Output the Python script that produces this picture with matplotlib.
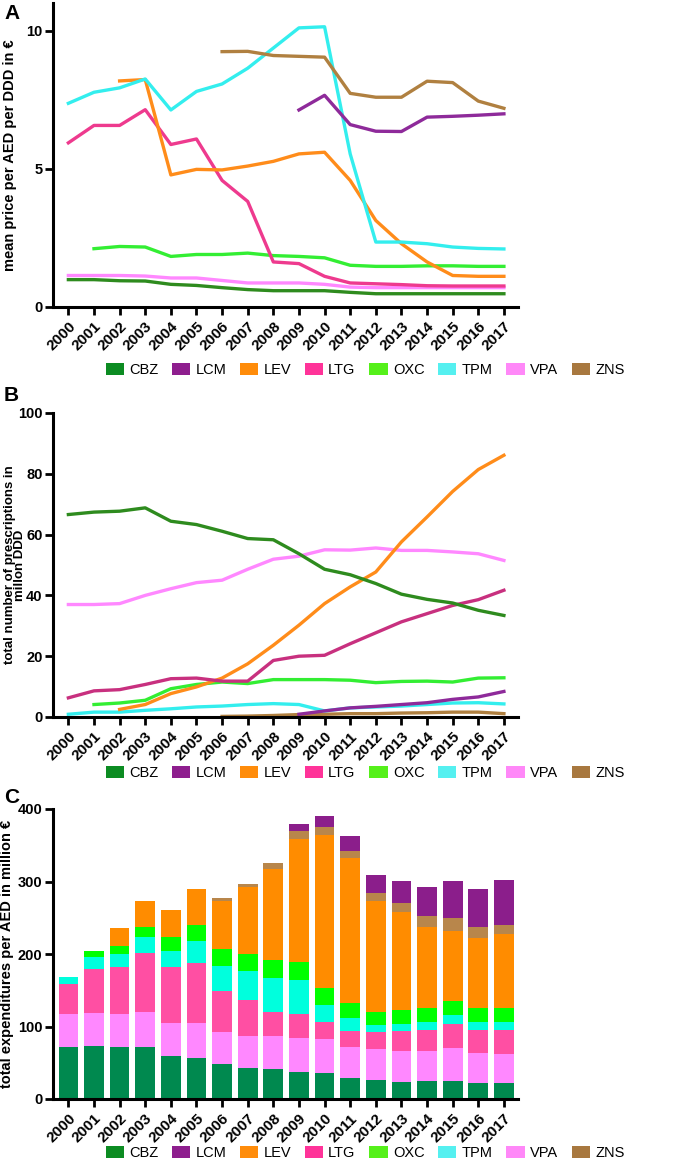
import matplotlib
matplotlib.use('Agg')
import matplotlib.pyplot as plt
import numpy as np
from matplotlib.patches import Patch

plt.rcParams['font.family'] = ['Liberation Sans', 'DejaVu Sans']

YEARS = list(range(2000, 2018))
DRUGS = ['CBZ', 'LCM', 'LEV', 'LTG', 'OXC', 'TPM', 'VPA', 'ZNS']
nan = np.nan

# ---- A: mean price per AED per DDD (EUR) ----
PRICE_CBZ = [0.99, 0.99, 0.95, 0.94, 0.82, 0.78, 0.70, 0.63, 0.59, 0.59, 0.59, 0.53, 0.48, 0.48, 0.48, 0.48, 0.48, 0.48]
PRICE_LCM = [nan] * 9 + [7.13, 7.66, 6.60, 6.36, 6.35, 6.87, 6.90, 6.94, 6.99]
PRICE_LEV = [nan, nan, 8.18, 8.23, 4.78, 4.98, 4.96, 5.10, 5.27, 5.54, 5.60, 4.58, 3.13, 2.29, 1.63, 1.14, 1.11, 1.11]
PRICE_LTG = [5.94, 6.57, 6.57, 7.14, 5.88, 6.08, 4.58, 3.82, 1.63, 1.57, 1.11, 0.87, 0.84, 0.81, 0.77, 0.76, 0.76, 0.76]
PRICE_OXC = [nan, 2.11, 2.19, 2.17, 1.83, 1.90, 1.90, 1.95, 1.86, 1.83, 1.78, 1.51, 1.47, 1.47, 1.49, 1.49, 1.47, 1.47]
PRICE_TPM = [7.37, 7.77, 7.93, 8.25, 7.13, 7.80, 8.07, 8.64, 9.37, 10.10, 10.14, 5.54, 2.35, 2.35, 2.29, 2.17, 2.12, 2.10]
PRICE_VPA = [1.14, 1.14, 1.14, 1.12, 1.05, 1.05, 0.96, 0.87, 0.87, 0.87, 0.82, 0.72, 0.70, 0.70, 0.70, 0.70, 0.70, 0.70]
PRICE_ZNS = [nan] * 6 + [9.24, 9.25, 9.10, 9.07, 9.04, 7.73, 7.59, 7.59, 8.17, 8.12, 7.45, 7.19]

# ---- B: prescriptions in million DDD ----
DDD_CBZ = [66.6, 67.4, 67.7, 68.8, 64.4, 63.3, 61.1, 58.7, 58.3, 53.7, 48.6, 46.8, 43.9, 40.4, 38.7, 37.5, 35.1, 33.4]
DDD_LCM = [nan] * 9 + [0.9, 2.0, 3.0, 3.5, 4.1, 4.7, 5.8, 6.6, 8.4]
DDD_LEV = [nan, nan, 2.5, 4.1, 7.7, 9.9, 12.8, 17.5, 23.6, 30.2, 37.3, 42.8, 47.7, 57.6, 65.8, 74.2, 81.4, 86.1]
DDD_LTG = [6.3, 8.6, 9.0, 10.7, 12.6, 12.8, 11.8, 11.8, 18.6, 20.0, 20.3, 24.1, 27.7, 31.3, 34.0, 36.7, 38.6, 41.7]
DDD_OXC = [nan, 4.1, 4.6, 5.5, 9.3, 10.7, 11.5, 11.0, 12.3, 12.3, 12.3, 12.1, 11.3, 11.7, 11.8, 11.5, 12.8, 12.9]
DDD_TPM = [0.9, 1.6, 1.6, 2.2, 2.7, 3.3, 3.6, 4.1, 4.4, 4.1, 2.0, 3.0, 3.3, 3.6, 4.1, 4.6, 4.7, 4.3]
DDD_VPA = [37.0, 37.0, 37.3, 40.0, 42.2, 44.2, 45.0, 48.6, 51.9, 52.9, 55.0, 54.9, 55.6, 54.8, 54.8, 54.3, 53.7, 51.5]
DDD_ZNS = [nan] * 6 + [0.2, 0.3, 0.5, 0.8, 0.9, 1.1, 1.1, 1.3, 1.4, 1.6, 1.6, 1.1]

# ---- C: expenditures in million EUR (stack segments) ----
EXP_CBZ = [72.3, 73.2, 71.8, 71.3, 59.4, 56.6, 48.8, 42.8, 41.4, 37.3, 35.4, 29.5, 26.2, 23.9, 24.4, 24.9, 21.6, 21.6]
EXP_VPA = [45.1, 45.1, 46.0, 48.8, 45.6, 47.9, 43.3, 44.2, 45.6, 46.9, 47.5, 42.3, 42.4, 42.8, 42.3, 45.1, 41.5, 40.1]
EXP_LTG = [40.9, 60.7, 64.5, 81.1, 77.3, 82.8, 56.6, 49.2, 32.7, 32.7, 23.4, 21.6, 24.4, 27.2, 28.1, 33.1, 32.2, 33.6]
EXP_TPM = [9.7, 16.2, 17.5, 22.5, 22.5, 30.0, 34.5, 40.6, 47.4, 47.9, 23.0, 18.9, 9.2, 10.1, 11.5, 12.4, 11.5, 10.6]
EXP_OXC = [0, 9.6, 11.5, 12.9, 18.0, 22.1, 23.9, 23.0, 24.4, 24.4, 24.0, 19.8, 18.4, 18.9, 19.8, 20.3, 19.3, 20.2]
EXP_LEV = [0, 0, 24.8, 36.8, 37.3, 50.6, 66.3, 92.9, 126.1, 169.8, 211.3, 199.8, 152.8, 134.9, 110.9, 95.3, 95.8, 101.3]
EXP_ZNS = [0] * 6 + [3.7, 4.2, 7.8, 10.2, 10.5, 10.1, 10.1, 12.4, 15.7, 18.4, 15.2, 12.9]
EXP_LCM = [0] * 9 + [10.5, 15.7, 20.7, 25.4, 30.4, 39.6, 50.6, 52.4, 62.1]

LEGEND_COL = ['#0c8c22', '#8e1e8e', '#ff8c0a', '#ff3399', '#55f01a', '#55f0f0', '#ff88f8', '#a8783f']
LINE_A = {'CBZ': '#2e8b1e', 'LCM': '#8e2a9a', 'LEV': '#ff8c1a', 'LTG': '#ee3a8e',
          'OXC': '#33ee33', 'TPM': '#33eeee', 'VPA': '#ff88ff', 'ZNS': '#b08040'}
LINE_B = dict(LINE_A, LTG='#c8307f')
BAR_COL = {'CBZ': '#00894f', 'VPA': '#ff88ff', 'LTG': '#ff4fa3', 'TPM': '#00ffdd',
           'OXC': '#00ff00', 'LEV': '#ff8c00', 'ZNS': '#b8864b', 'LCM': '#8b1e8b'}
NARROW = ['Liberation Sans Narrow', 'Liberation Sans']

W, H = 685, 1162
fig = plt.figure(figsize=(W / 100, H / 100), dpi=100)


def box(top, bottom, left=53, right=518):
    return [left / W, 1 - bottom / H, (right - left) / W, (bottom - top) / H]


def style(ax, ymax, yticks, ylabel, labx, labsize=10.5):
    x = np.arange(len(YEARS))
    ax.set_xlim(-0.6, 17.55)
    ax.set_ylim(0, ymax)
    ax.set_xticks(x)
    ax.set_xticklabels([str(y) for y in YEARS], rotation=45, ha='right',
                       rotation_mode='anchor', fontsize=11, fontweight='bold', family=NARROW)
    ax.set_yticks(yticks)
    ax.set_yticklabels([str(t) for t in yticks], fontsize=10.5, fontweight='bold', family=NARROW)
    for s in ['top', 'right']:
        ax.spines[s].set_visible(False)
    for s in ['left', 'bottom']:
        ax.spines[s].set_linewidth(2.2)
    ax.tick_params(width=2, length=6)
    ax.tick_params(axis='y', pad=1.5)
    ax.tick_params(axis='x', pad=3)
    ax.set_ylabel(ylabel, fontsize=labsize, fontweight='bold', linespacing=0.85)
    ax.yaxis.set_label_coords(labx, 0.5)


def legend(y):
    handles = [Patch(facecolor=c, edgecolor='none') for c in LEGEND_COL]
    fig.legend(handles, DRUGS, loc='center', bbox_to_anchor=(365 / W, 1 - y / H),
               ncol=8, frameon=False, fontsize=10.5, handlelength=1.25,
               handleheight=0.8, handletextpad=0.35, columnspacing=0.95)


x = np.arange(len(YEARS))

# A
axA = fig.add_axes(box(3, 307))
price = {'CBZ': PRICE_CBZ, 'LCM': PRICE_LCM, 'LEV': PRICE_LEV, 'LTG': PRICE_LTG,
         'OXC': PRICE_OXC, 'TPM': PRICE_TPM, 'VPA': PRICE_VPA, 'ZNS': PRICE_ZNS}
for d in ['VPA', 'CBZ', 'OXC', 'LTG', 'LEV', 'TPM', 'LCM', 'ZNS']:
    axA.plot(x, price[d], color=LINE_A[d], lw=2.4, solid_joinstyle='round')
style(axA, 11, [0, 5, 10], 'mean price per AED per DDD in €', -0.077)
legend(370)

# B
axB = fig.add_axes(box(413, 717))
ddd = {'CBZ': DDD_CBZ, 'LCM': DDD_LCM, 'LEV': DDD_LEV, 'LTG': DDD_LTG,
       'OXC': DDD_OXC, 'TPM': DDD_TPM, 'VPA': DDD_VPA, 'ZNS': DDD_ZNS}
for d in ['ZNS', 'TPM', 'OXC', 'VPA', 'LEV', 'LTG', 'CBZ', 'LCM']:
    axB.plot(x, ddd[d], color=LINE_B[d], lw=2.4, solid_joinstyle='round', clip_on=False)
style(axB, 100, [0, 20, 40, 60, 80, 100], 'total number of prescriptions in\nmillon DDD',
      -0.057, labsize=9.5)
legend(773)

# C
axC = fig.add_axes(box(809, 1099))
exp = [('CBZ', EXP_CBZ), ('VPA', EXP_VPA), ('LTG', EXP_LTG), ('TPM', EXP_TPM),
       ('OXC', EXP_OXC), ('LEV', EXP_LEV), ('ZNS', EXP_ZNS), ('LCM', EXP_LCM)]
bottom = np.zeros(len(YEARS))
for d, vals in exp:
    vals = np.array(vals)
    axC.bar(x, vals, bottom=bottom, width=0.77, color=BAR_COL[d], linewidth=0)
    bottom += vals
style(axC, 400, [0, 100, 200, 300, 400], 'total expenditures per AED in million €', -0.083)
legend(1153)

for letter, y in [('A', 4), ('B', 386), ('C', 788)]:
    fig.text(4 / W, 1 - y / H, letter, fontsize=15, fontweight='bold', va='top', ha='left')

fig.savefig('out.png', dpi=100)
